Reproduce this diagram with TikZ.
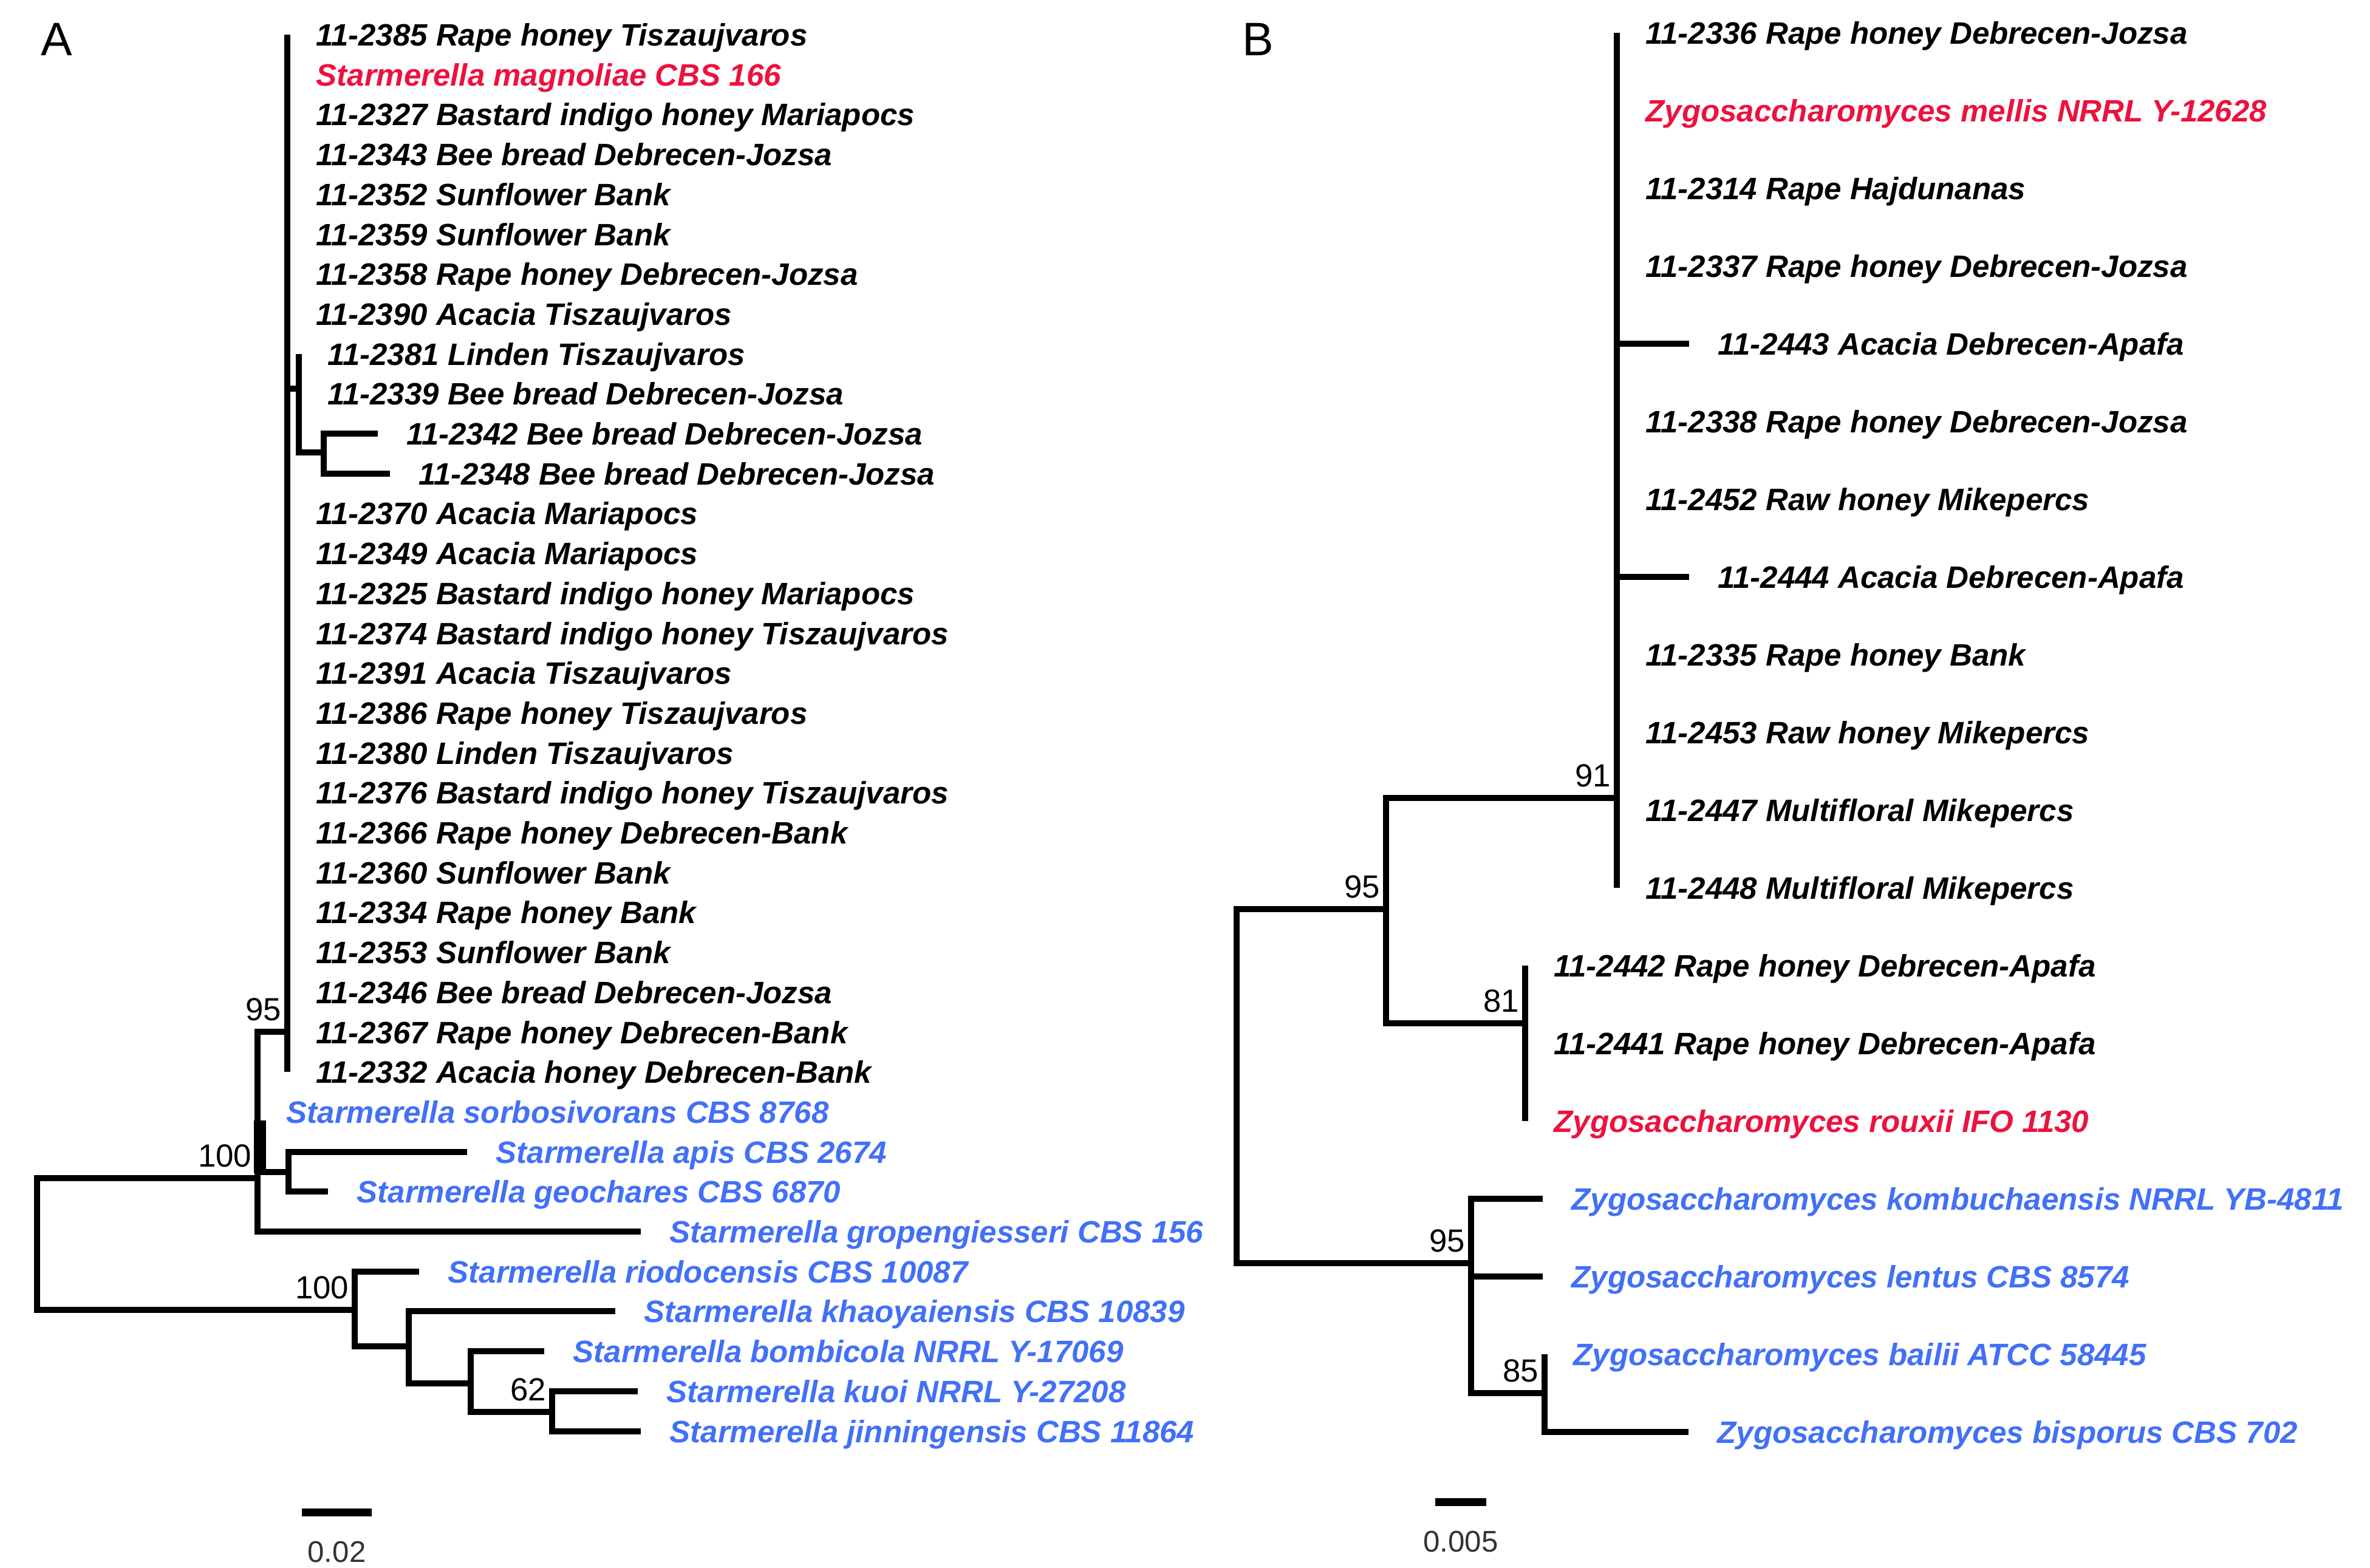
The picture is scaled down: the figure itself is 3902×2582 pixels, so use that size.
\documentclass[tikz,border=0pt]{standalone}
\usepackage{fontspec}
\setmainfont{Liberation Sans}
\usetikzlibrary{ % tikz packages
    positioning
}
\definecolor{typered}{RGB}{236,18,62}
\definecolor{refblue}{RGB}{66,112,246}
\tikzset{
    branch/.style={line width=0.095cm},
    elbow/.style={to path={(\tikztostart) |- (\tikztotarget)}},
    taxon/.style={anchor=base west, inner sep=0pt, xshift=0.47cm, yshift=-0.18cm,
        font=\fontsize{14.5}{17}\selectfont\bfseries\itshape},
    typestrain/.style={taxon, text=typered},
    refstrain/.style={taxon, text=refblue},
    boot/.style={inner sep=0pt, font=\fontsize{15}{18}\selectfont},
    scalelabel/.style={inner sep=0pt, text=black!80, font=\fontsize{14}{17}\selectfont},
    panel/.style={inner sep=0pt, font=\fontsize{22}{26}\selectfont}
}

\begin{document}
\begin{tikzpicture}[x=0.01cm,y=-0.01cm]
        \useasboundingbox (0,0) rectangle (3902,2582);

        % panel A
        \node[panel] (pA) at (93,65) {A};

        \coordinate (nRootA) at (61,2048);
        \coordinate (nA100u) at (424,1940);
        \coordinate (nA95) at (473,1699);
        \coordinate (nLin) at (492,640);
        \coordinate (nBB) at (533,745);
        \coordinate (nAG) at (475,1930);
        \coordinate (nA100l) at (584,2157);
        \coordinate (nK) at (673,2217);
        \coordinate (nBo) at (775,2278);
        \coordinate (nA62) at (909,2325);

        \coordinate (t2385) at (473,57);
        \coordinate (tMagn) at (473,123);
        \coordinate (t2327) at (473,188);
        \coordinate (t2343) at (473,254);
        \coordinate (t2352) at (473,320);
        \coordinate (t2359) at (473,386);
        \coordinate (t2358) at (473,451);
        \coordinate (t2390) at (473,517);
        \coordinate (t2381) at (492,583);
        \coordinate (t2339) at (492,648);
        \coordinate (t2342) at (622,714);
        \coordinate (t2348) at (642,780);
        \coordinate (t2370) at (473,845);
        \coordinate (t2349) at (473,911);
        \coordinate (t2325) at (473,977);
        \coordinate (t2374) at (473,1043);
        \coordinate (t2391) at (473,1108);
        \coordinate (t2386) at (473,1174);
        \coordinate (t2380) at (473,1240);
        \coordinate (t2376) at (473,1305);
        \coordinate (t2366) at (473,1371);
        \coordinate (t2360) at (473,1437);
        \coordinate (t2334) at (473,1502);
        \coordinate (t2353) at (473,1568);
        \coordinate (t2346) at (473,1634);
        \coordinate (t2367) at (473,1700);
        \coordinate (t2332) at (473,1765);
        \coordinate (tSorb) at (424,1831);
        \coordinate (tApis) at (769,1897);
        \coordinate (tGeoc) at (540,1962);
        \coordinate (tGrop) at (1055,2028);
        \coordinate (tRiod) at (690,2094);
        \coordinate (tKhao) at (1013,2159);
        \coordinate (tBomb) at (896,2225);
        \coordinate (tKuoi) at (1050,2291);
        \coordinate (tJinn) at (1055,2357);

        \node[taxon] (l2385) at (t2385) {11-2385 Rape honey Tiszaujvaros};
        \node[typestrain] (lMagn) at (tMagn) {Starmerella magnoliae CBS 166};
        \node[taxon] (l2327) at (t2327) {11-2327 Bastard indigo honey Mariapocs};
        \node[taxon] (l2343) at (t2343) {11-2343 Bee bread Debrecen-Jozsa};
        \node[taxon] (l2352) at (t2352) {11-2352 Sunflower Bank};
        \node[taxon] (l2359) at (t2359) {11-2359 Sunflower Bank};
        \node[taxon] (l2358) at (t2358) {11-2358 Rape honey Debrecen-Jozsa};
        \node[taxon] (l2390) at (t2390) {11-2390 Acacia Tiszaujvaros};
        \node[taxon] (l2381) at (t2381) {11-2381 Linden Tiszaujvaros};
        \node[taxon] (l2339) at (t2339) {11-2339 Bee bread Debrecen-Jozsa};
        \node[taxon] (l2342) at (t2342) {11-2342 Bee bread Debrecen-Jozsa};
        \node[taxon] (l2348) at (t2348) {11-2348 Bee bread Debrecen-Jozsa};
        \node[taxon] (l2370) at (t2370) {11-2370 Acacia Mariapocs};
        \node[taxon] (l2349) at (t2349) {11-2349 Acacia Mariapocs};
        \node[taxon] (l2325) at (t2325) {11-2325 Bastard indigo honey Mariapocs};
        \node[taxon] (l2374) at (t2374) {11-2374 Bastard indigo honey Tiszaujvaros};
        \node[taxon] (l2391) at (t2391) {11-2391 Acacia Tiszaujvaros};
        \node[taxon] (l2386) at (t2386) {11-2386 Rape honey Tiszaujvaros};
        \node[taxon] (l2380) at (t2380) {11-2380 Linden Tiszaujvaros};
        \node[taxon] (l2376) at (t2376) {11-2376 Bastard indigo honey Tiszaujvaros};
        \node[taxon] (l2366) at (t2366) {11-2366 Rape honey Debrecen-Bank};
        \node[taxon] (l2360) at (t2360) {11-2360 Sunflower Bank};
        \node[taxon] (l2334) at (t2334) {11-2334 Rape honey Bank};
        \node[taxon] (l2353) at (t2353) {11-2353 Sunflower Bank};
        \node[taxon] (l2346) at (t2346) {11-2346 Bee bread Debrecen-Jozsa};
        \node[taxon] (l2367) at (t2367) {11-2367 Rape honey Debrecen-Bank};
        \node[taxon] (l2332) at (t2332) {11-2332 Acacia honey Debrecen-Bank};
        \node[refstrain] (lSorb) at (tSorb) {Starmerella sorbosivorans CBS 8768};
        \node[refstrain] (lApis) at (tApis) {Starmerella apis CBS 2674};
        \node[refstrain] (lGeoc) at (tGeoc) {Starmerella geochares CBS 6870};
        \node[refstrain] (lGrop) at (tGrop) {Starmerella gropengiesseri CBS 156};
        \node[refstrain] (lRiod) at (tRiod) {Starmerella riodocensis CBS 10087};
        \node[refstrain] (lKhao) at (tKhao) {Starmerella khaoyaiensis CBS 10839};
        \node[refstrain] (lBomb) at (tBomb) {Starmerella bombicola NRRL Y-17069};
        \node[refstrain] (lKuoi) at (tKuoi) {Starmerella kuoi NRRL Y-27208};
        \node[refstrain] (lJinn) at (tJinn) {Starmerella jinningensis CBS 11864};

        \path[branch]
            (nRootA) edge[elbow] (nA100u)
            (nRootA) edge[elbow] (nA100l)
            (nA100u) edge[elbow] (nA95)
            (nA100u) edge[elbow] (tSorb)
            (nA100u) edge[elbow] (nAG)
            (nA100u) edge[elbow] (tGrop)
            (nA95) edge[elbow] (t2385) (nA95) edge[elbow] (tMagn)
            (nA95) edge[elbow] (t2327) (nA95) edge[elbow] (t2343)
            (nA95) edge[elbow] (t2352) (nA95) edge[elbow] (t2359)
            (nA95) edge[elbow] (t2358) (nA95) edge[elbow] (t2390)
            (nA95) edge[elbow] (nLin)
            (nA95) edge[elbow] (t2370) (nA95) edge[elbow] (t2349)
            (nA95) edge[elbow] (t2325) (nA95) edge[elbow] (t2374)
            (nA95) edge[elbow] (t2391) (nA95) edge[elbow] (t2386)
            (nA95) edge[elbow] (t2380) (nA95) edge[elbow] (t2376)
            (nA95) edge[elbow] (t2366) (nA95) edge[elbow] (t2360)
            (nA95) edge[elbow] (t2334) (nA95) edge[elbow] (t2353)
            (nA95) edge[elbow] (t2346) (nA95) edge[elbow] (t2367)
            (nA95) edge[elbow] (t2332)
            (nLin) edge[elbow] (t2381)
            (nLin) edge[elbow] (t2339)
            (nLin) edge[elbow] (nBB)
            (nBB) edge[elbow] (t2342)
            (nBB) edge[elbow] (t2348)
            (nAG) edge[elbow] (tApis)
            (nAG) edge[elbow] (tGeoc)
            (nA100l) edge[elbow] (tRiod)
            (nA100l) edge[elbow] (nK)
            (nK) edge[elbow] (tKhao)
            (nK) edge[elbow] (nBo)
            (nBo) edge[elbow] (tBomb)
            (nBo) edge[elbow] (nA62)
            (nA62) edge[elbow] (tKuoi)
            (nA62) edge[elbow] (tJinn);

        % short thick stub at the sorbosivorans split
        \coordinate (sbTop) at (428,1845);
        \coordinate (sbBot) at (428,1932);
        \draw[branch, line width=0.19cm] (sbTop) -- (sbBot);

        \node[boot, above left=0.17cm and 0.09cm of nA95] (bA95) {95};
        \node[boot, above left=0.17cm and 0.09cm of nA100u] (bA100u) {100};
        \node[boot, above left=0.17cm and 0.09cm of nA100l] (bA100l) {100};
        \node[boot, above left=0.17cm and 0.09cm of nA62] (bA62) {62};

        \coordinate (sA1) at (497,2490);
        \coordinate (sA2) at (612,2490);
        \coordinate (sAm) at (554.5,2490);
        \draw[branch, line width=0.13cm] (sA1) -- (sA2);
        \node[scalelabel, below=0.47cm of sAm] (sAl) {0.02};

        % panel B
        \node[panel] (pB) at (2071,65) {B};

        \coordinate (nRootB) at (2036,1790);
        \coordinate (nB95u) at (2282,1497);
        \coordinate (nB91) at (2662,1314);
        \coordinate (nB81) at (2511,1685);
        \coordinate (nB95l) at (2422,2080);
        \coordinate (nB85) at (2543,2294);

        \coordinate (t2336) at (2662,54);
        \coordinate (tMell) at (2662,182);
        \coordinate (t2314) at (2662,310);
        \coordinate (t2337) at (2662,438);
        \coordinate (t2443) at (2781,566);
        \coordinate (t2338) at (2662,694);
        \coordinate (t2452) at (2662,822);
        \coordinate (t2444) at (2781,950);
        \coordinate (t2335) at (2662,1078);
        \coordinate (t2453) at (2662,1206);
        \coordinate (t2447) at (2662,1334);
        \coordinate (t2448) at (2662,1462);
        \coordinate (t2442) at (2511,1590);
        \coordinate (t2441) at (2511,1718);
        \coordinate (tRoux) at (2511,1846);
        \coordinate (tKomb) at (2540,1974);
        \coordinate (tLent) at (2540,2102);
        \coordinate (tBail) at (2543,2230);
        \coordinate (tBisp) at (2780,2358);

        \node[taxon] (l2336) at (t2336) {11-2336 Rape honey Debrecen-Jozsa};
        \node[typestrain] (lMell) at (tMell) {Zygosaccharomyces mellis NRRL Y-12628};
        \node[taxon] (l2314) at (t2314) {11-2314 Rape Hajdunanas};
        \node[taxon] (l2337) at (t2337) {11-2337 Rape honey Debrecen-Jozsa};
        \node[taxon] (l2443) at (t2443) {11-2443 Acacia Debrecen-Apafa};
        \node[taxon] (l2338) at (t2338) {11-2338 Rape honey Debrecen-Jozsa};
        \node[taxon] (l2452) at (t2452) {11-2452 Raw honey Mikepercs};
        \node[taxon] (l2444) at (t2444) {11-2444 Acacia Debrecen-Apafa};
        \node[taxon] (l2335) at (t2335) {11-2335 Rape honey Bank};
        \node[taxon] (l2453) at (t2453) {11-2453 Raw honey Mikepercs};
        \node[taxon] (l2447) at (t2447) {11-2447 Multifloral Mikepercs};
        \node[taxon] (l2448) at (t2448) {11-2448 Multifloral Mikepercs};
        \node[taxon] (l2442) at (t2442) {11-2442 Rape honey Debrecen-Apafa};
        \node[taxon] (l2441) at (t2441) {11-2441 Rape honey Debrecen-Apafa};
        \node[typestrain] (lRoux) at (tRoux) {Zygosaccharomyces rouxii IFO 1130};
        \node[refstrain] (lKomb) at (tKomb) {Zygosaccharomyces kombuchaensis NRRL YB-4811};
        \node[refstrain] (lLent) at (tLent) {Zygosaccharomyces lentus CBS 8574};
        \node[refstrain] (lBail) at (tBail) {Zygosaccharomyces bailii ATCC 58445};
        \node[refstrain] (lBisp) at (tBisp) {Zygosaccharomyces bisporus CBS 702};

        \path[branch]
            (nRootB) edge[elbow] (nB95u)
            (nRootB) edge[elbow] (nB95l)
            (nB95u) edge[elbow] (nB91)
            (nB95u) edge[elbow] (nB81)
            (nB91) edge[elbow] (t2336) (nB91) edge[elbow] (tMell)
            (nB91) edge[elbow] (t2314) (nB91) edge[elbow] (t2337)
            (nB91) edge[elbow] (t2443) (nB91) edge[elbow] (t2338)
            (nB91) edge[elbow] (t2452) (nB91) edge[elbow] (t2444)
            (nB91) edge[elbow] (t2335) (nB91) edge[elbow] (t2453)
            (nB91) edge[elbow] (t2447) (nB91) edge[elbow] (t2448)
            (nB81) edge[elbow] (t2442)
            (nB81) edge[elbow] (t2441)
            (nB81) edge[elbow] (tRoux)
            (nB95l) edge[elbow] (tKomb)
            (nB95l) edge[elbow] (tLent)
            (nB95l) edge[elbow] (nB85)
            (nB85) edge[elbow] (tBail)
            (nB85) edge[elbow] (tBisp);

        \node[boot, above left=0.17cm and 0.09cm of nB91] (bB91) {91};
        \node[boot, above left=0.17cm and 0.09cm of nB95u] (bB95u) {95};
        \node[boot, above left=0.17cm and 0.09cm of nB81] (bB81) {81};
        \node[boot, above left=0.17cm and 0.09cm of nB95l] (bB95l) {95};
        \node[boot, above left=0.17cm and 0.09cm of nB85] (bB85) {85};

        \coordinate (sB1) at (2363,2473);
        \coordinate (sB2) at (2447,2473);
        \coordinate (sBm) at (2405,2473);
        \draw[branch, line width=0.13cm] (sB1) -- (sB2);
        \node[scalelabel, below=0.47cm of sBm] (sBl) {0.005};
\end{tikzpicture}
\end{document}
